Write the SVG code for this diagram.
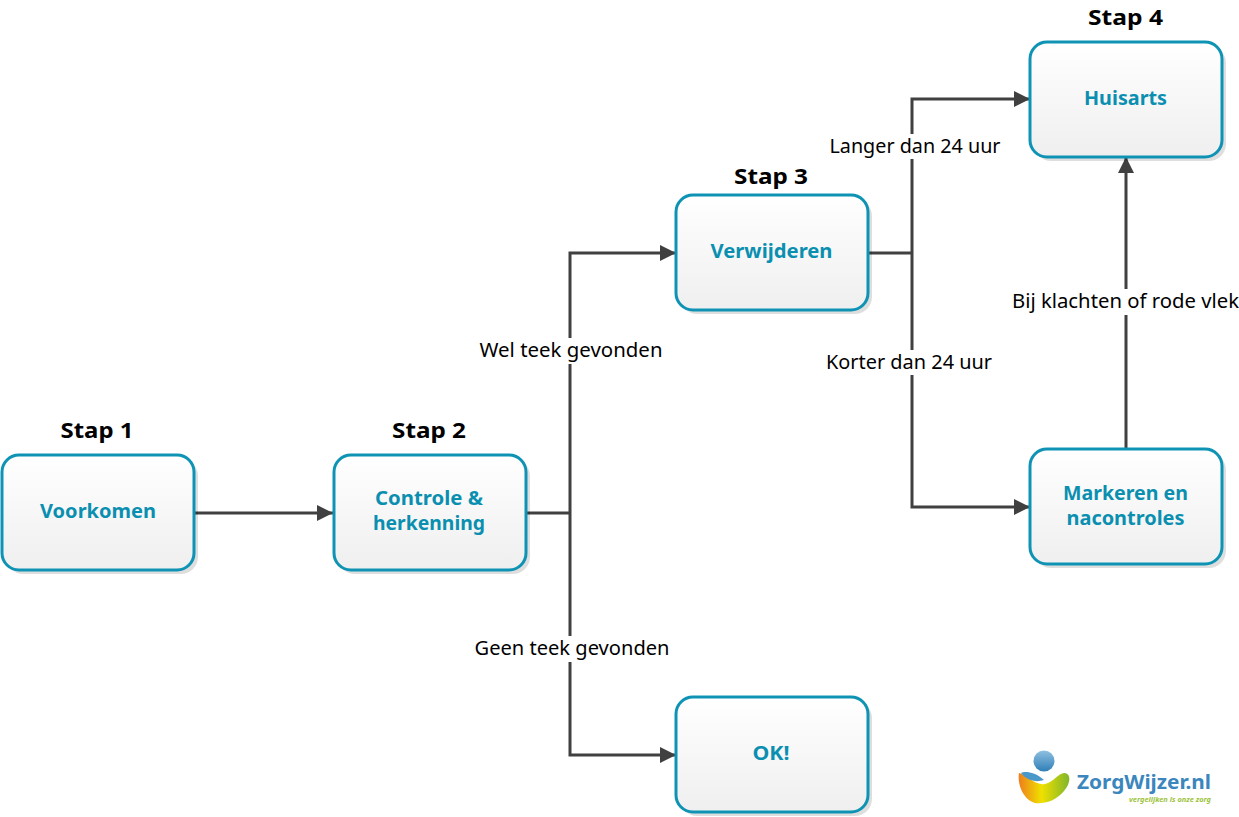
<svg xmlns="http://www.w3.org/2000/svg" width="1239" height="817" viewBox="0 0 1239 817">
<style>
text{font-family:"Noto Sans","Open Sans","DejaVu Sans",sans-serif}
.box{fill:url(#boxFill);stroke:#0e93b5;stroke-width:3}
.shade{fill:#000;opacity:.13}
.title{font-weight:700;fill:#0b8fb0;text-anchor:middle;font-size:19px}
.step{font-size:22px;font-weight:700;fill:#000;text-anchor:middle}
.lbl{font-size:19px;fill:#000;text-anchor:middle}
.line{fill:none;stroke:#404040;stroke-width:3}
</style>
<defs>
<linearGradient id="boxFill" x1="0" y1="0" x2="0" y2="1"><stop offset="0" stop-color="#fff"/><stop offset="1" stop-color="#efefef"/></linearGradient>
<linearGradient id="heart" x1="0" y1="0" x2="1" y2="0"><stop offset="0" stop-color="#ee7d1c"/><stop offset=".45" stop-color="#f0e000"/><stop offset="1" stop-color="#7fb62a"/></linearGradient>
<linearGradient id="ball" x1="0" y1="0" x2="0" y2="1"><stop offset="0" stop-color="#8fc0e0"/><stop offset="1" stop-color="#2f7fb8"/></linearGradient>
<marker id="arrow" markerUnits="userSpaceOnUse" markerWidth="16" markerHeight="16" refX="16" refY="8" orient="auto"><path d="M0 0L16 8L0 16Z" fill="#404040"/></marker>
</defs>

<g id="connectors">
<path class="line" marker-end="url(#arrow)" d="M193 513H333"/>
<path class="line" d="M525 513H570"/>
<path class="line" marker-end="url(#arrow)" d="M570 513V253H676"/>
<path class="line" marker-end="url(#arrow)" d="M570 513V755H676"/>
<path class="line" d="M867 253H912"/>
<path class="line" marker-end="url(#arrow)" d="M912 253V99H1030"/>
<path class="line" marker-end="url(#arrow)" d="M912 253V507H1030"/>
<path class="line" marker-end="url(#arrow)" d="M1126 449V157"/>
</g>

<g id="connector-labels">
<rect x="476" y="338" width="190" height="26" fill="#fff"/>
<text class="lbl" x="571" y="357" textLength="183" lengthAdjust="spacingAndGlyphs">Wel teek gevonden</text>
<rect x="472" y="636" width="200" height="26" fill="#fff"/>
<text class="lbl" x="572" y="655" textLength="195" lengthAdjust="spacingAndGlyphs">Geen teek gevonden</text>
<rect x="826" y="134" width="176" height="25" fill="#fff"/>
<text class="lbl" x="915" y="153" textLength="171" lengthAdjust="spacingAndGlyphs">Langer dan 24 uur</text>
<rect x="823" y="350" width="172" height="25" fill="#fff"/>
<text class="lbl" x="909" y="369" textLength="166" lengthAdjust="spacingAndGlyphs">Korter dan 24 uur</text>
<rect x="1009" y="289" width="230" height="26" fill="#fff"/>
<text class="lbl" x="1125.500" y="308" textLength="227" lengthAdjust="spacingAndGlyphs">Bij klachten of rode vlek</text>
</g>

<g id="voorkomen">
<rect class="shade" x="6" y="459" width="192" height="115" rx="17"/>
<rect class="box" x="2" y="455" width="192" height="115" rx="17"/>
<text class="title" x="98" y="518" textLength="116" lengthAdjust="spacingAndGlyphs">Voorkomen</text>
<text class="step" x="97" y="438" textLength="73" lengthAdjust="spacingAndGlyphs">Stap 1</text>
</g>
<g id="controle">
<rect class="shade" x="338" y="459" width="192" height="115" rx="17"/>
<rect class="box" x="334" y="455" width="192" height="115" rx="17"/>
<text class="title" x="429" y="505" textLength="108" lengthAdjust="spacingAndGlyphs">Controle &amp;</text>
<text class="title" x="429" y="530" textLength="112" lengthAdjust="spacingAndGlyphs">herkenning</text>
<text class="step" x="429" y="438" textLength="74" lengthAdjust="spacingAndGlyphs">Stap 2</text>
</g>
<g id="verwijderen">
<rect class="shade" x="680" y="199" width="192" height="115" rx="17"/>
<rect class="box" x="676" y="195" width="192" height="115" rx="17"/>
<text class="title" x="771.500" y="258" textLength="122" lengthAdjust="spacingAndGlyphs">Verwijderen</text>
<text class="step" x="771" y="184" textLength="74" lengthAdjust="spacingAndGlyphs">Stap 3</text>
</g>
<g id="ok">
<rect class="shade" x="680" y="701" width="192" height="115" rx="17"/>
<rect class="box" x="676" y="697" width="192" height="115" rx="17"/>
<text class="title" x="771" y="760" textLength="37" lengthAdjust="spacingAndGlyphs">OK!</text>
</g>
<g id="huisarts">
<rect class="shade" x="1034" y="46" width="192" height="115" rx="17"/>
<rect class="box" x="1030" y="42" width="192" height="115" rx="17"/>
<text class="title" x="1125.500" y="105" textLength="83" lengthAdjust="spacingAndGlyphs">Huisarts</text>
<text class="step" x="1125.500" y="25" textLength="75" lengthAdjust="spacingAndGlyphs">Stap 4</text>
</g>
<g id="markeren">
<rect class="shade" x="1034" y="453" width="192" height="115" rx="17"/>
<rect class="box" x="1030" y="449" width="192" height="115" rx="17"/>
<text class="title" x="1125.500" y="499.500" textLength="125" lengthAdjust="spacingAndGlyphs">Markeren en</text>
<text class="title" x="1125.500" y="524.500" textLength="118" lengthAdjust="spacingAndGlyphs">nacontroles</text>
</g>

<g id="logo">
<circle cx="1044" cy="761" r="10.500" fill="url(#ball)"/>
<path d="M1019 773C1027 775 1036 786 1045 784C1054 782 1059 772 1065 773C1071 774 1071 783 1064 791C1056 801 1044 804 1035 803C1024 800 1017 785 1019 773Z" fill="url(#heart)"/>
<path d="M1021 773C1025 771 1035 772 1044 780C1036 783 1026 780 1021 773Z" fill="#4a97c9"/>
<text x="1077" y="789" font-size="19" font-weight="700" fill="#3b86bd" textLength="134" lengthAdjust="spacingAndGlyphs">ZorgWijzer.nl</text>
<text x="1129" y="802" font-size="7" font-style="italic" font-weight="700" fill="#9cc33c" textLength="82" lengthAdjust="spacingAndGlyphs">vergelijken is onze zorg</text>
</g>
</svg>
